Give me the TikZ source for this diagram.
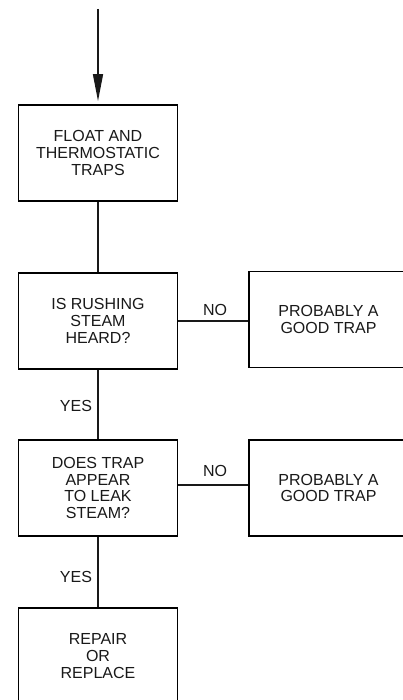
\documentclass[tikz,border=0pt]{standalone}
\usepackage{fontspec}
\setmainfont{Liberation Sans}
\usetikzlibrary{arrows.meta}
\begin{document}
\begin{tikzpicture}[x=1pt,y=1pt,
  box/.style={draw=black, line width=1.8pt, minimum width=159pt, minimum height=96pt,
    inner sep=0pt, align=center, font=\fontsize{16}{16.6}\selectfont, text=black!90},
  lbl/.style={inner sep=0pt, font=\fontsize{16}{16.6}\selectfont, text=black!90},
  conn/.style={line width=1.5pt, draw=black!90}]
\useasboundingbox (0,0) rectangle (403,700);
\clip (0,0) rectangle (403,700);
\fill[white] (0,0) rectangle (403,700);
\coordinate (start) at (98,691);
\node[box] (b1) at (98,547) {FLOAT AND\\THERMOSTATIC\\TRAPS};
\node[box] (b2) at (98,379) {IS RUSHING\\STEAM\\HEARD?};
\node[box] (r1) at (328.5,380.5) {PROBABLY A\\GOOD TRAP};
\node[box] (b3) at (98,212) {DOES TRAP\\APPEAR\\TO LEAK\\STEAM?};
\node[box] (r2) at (328.5,212) {PROBABLY A\\GOOD TRAP};
\node[box] (b4) at (98,44) {REPAIR\\OR\\REPLACE};
\node[lbl] (no1) at (215,390.3) {NO};
\node[lbl] (no2) at (215,228.7) {NO};
\node[lbl] (yes1) at (76,294) {YES};
\node[lbl] (yes2) at (76,123.5) {YES};
\draw[conn, -{Triangle[length=27pt,width=10pt]}] (start) -- ([yshift=3pt]b1.north);
\draw[conn] (b1.south) -- (b2.north);
\draw[conn] (b2.south) -- (b3.north);
\draw[conn] (b3.south) -- (b4.north);
\draw[conn] (b2.east) -- (b2.east -| r1.west);
\draw[conn] ([yshift=3pt]b3.east) -- ([yshift=3pt]b3.east -| r2.west);
\end{tikzpicture}
\end{document}
